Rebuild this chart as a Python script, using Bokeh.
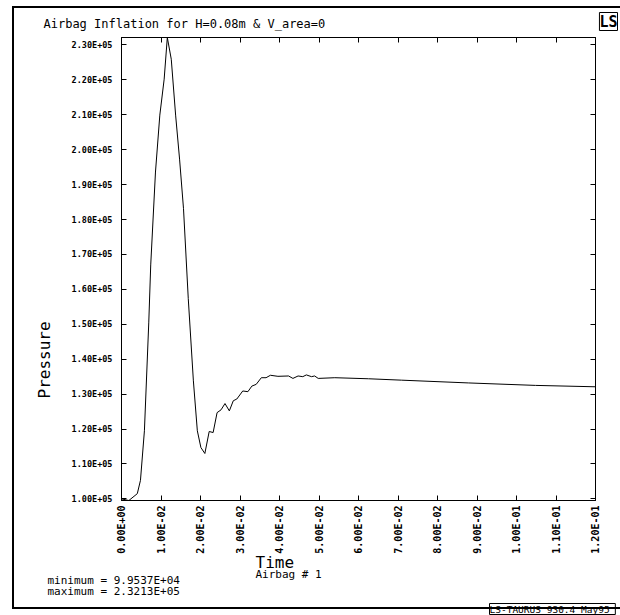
import math
from bokeh.plotting import figure
from bokeh.models import (LinearAxis, FixedTicker, CustomJSTickFormatter, Range1d, Title)
from bokeh.embed import file_html
from bokeh.resources import INLINE

# ---- data ----
time = [0.0, 0.00186, 0.0040, 0.0048, 0.0058, 0.0069, 0.0074, 0.0086, 0.0097, 0.0108,
        0.0116, 0.0126, 0.0137, 0.0147, 0.0157, 0.0169, 0.0182, 0.0192, 0.0201, 0.0211,
        0.0222, 0.0232, 0.0242, 0.0252, 0.0262, 0.0273, 0.0283, 0.0292, 0.0307, 0.0320,
        0.0330, 0.0341, 0.0354, 0.0366, 0.0377, 0.0396, 0.0423, 0.0434, 0.0447, 0.0459,
        0.0468, 0.0481, 0.0489, 0.0498, 0.0540, 0.0625, 0.0709, 0.0879, 0.1048, 0.1200]
pressure = [100000, 99537, 101500, 105300, 119500, 150400, 167000, 193600, 209900, 220200,
            232130, 225900, 209900, 197300, 183100, 157400, 133800, 119500, 114700, 113000,
            119300, 119000, 124700, 125500, 127300, 125200, 128100, 128600, 130900, 130700,
            132300, 132800, 134700, 134700, 135400, 135100, 135200, 134500, 135200, 135000,
            135500, 135000, 135200, 134500, 134700, 134400, 134000, 133200, 132500, 132100]

x_ticks = [0.00, 0.01, 0.02, 0.03, 0.04, 0.05, 0.06, 0.07, 0.08, 0.09, 0.10, 0.11, 0.12]
y_ticks = [100000, 110000, 120000, 130000, 140000, 150000, 160000, 170000, 180000,
           190000, 200000, 210000, 220000, 230000]

title_text = "Airbag Inflation for H=0.08m & V_area=0"
x_title = "Time"
y_title = "Pressure"
curve_name = "Airbag # 1"
min_text = "minimum =  9.9537E+04"
max_text = "maximum =  2.3213E+05"
stamp_text = "LS-TAURUS 930.4  May95"
logo_text = "LS"

# ---- layout ----
W, H = 620, 615
FL, FR, FT, FB = 121, 595, 37, 500   # frame edges in canvas pixels
MONO = "DejaVu Sans Mono"

page_svg = ("%3Csvg xmlns='http://www.w3.org/2000/svg' width='620' height='615'%3E"
            "%3Cpath d='M640 7 H13 V608 H640' fill='none' stroke='black' stroke-width='2'/%3E"
            "%3C/svg%3E")
page_lines = {
    "background-image": 'url("data:image/svg+xml;utf8,' + page_svg + '")',
    "background-repeat": "no-repeat",
    "background-position": "0 0",
    "overflow": "hidden",
}

p = figure(width=W, height=H, output_backend="svg", toolbar_location=None,
           x_axis_type=None, y_axis_type=None, title=None,
           min_border_left=FL, min_border_right=W - FR,
           min_border_top=FT, min_border_bottom=H - FB,
           x_range=Range1d(0.0, 0.12), y_range=Range1d(min(pressure), max(pressure)),
           styles=page_lines)
p.grid.visible = False
p.outline_line_color = "black"
p.outline_line_width = 1
p.background_fill_color = "white"
p.border_fill_alpha = 0

fmt = CustomJSTickFormatter(code="""
    const e = tick.toExponential(2).toUpperCase().split("E");
    let ex = parseInt(e[1]);
    const sg = ex < 0 ? "-" : "+";
    ex = Math.abs(ex);
    return e[0] + "E" + sg + (ex < 10 ? "0" : "") + ex;
""")

def style_axis(ax, label_size=None):
    ax.axis_line_color = "black"
    ax.major_tick_line_color = "black"
    ax.major_tick_in = 5
    ax.major_tick_out = 0
    ax.minor_tick_line_color = None
    if label_size:
        ax.formatter = fmt
        ax.major_label_text_font = MONO
        ax.major_label_text_font_size = label_size
        ax.major_label_text_font_style = "bold"
        ax.major_label_text_color = "black"
    else:
        ax.major_label_text_color = None
        ax.major_label_text_font_size = "1px"
        ax.major_label_standoff = 0

xb = LinearAxis(ticker=FixedTicker(ticks=x_ticks))
style_axis(xb, "10px")
xb.major_label_orientation = math.pi / 2
xb.major_label_standoff = 5
p.add_layout(xb, "below")

xa = LinearAxis(ticker=FixedTicker(ticks=x_ticks))
style_axis(xa)
p.add_layout(xa, "above")

yl = LinearAxis(ticker=FixedTicker(ticks=y_ticks))
style_axis(yl, "8.5px")
yl.major_label_standoff = 9
p.add_layout(yl, "left")

yr = LinearAxis(ticker=FixedTicker(ticks=y_ticks))
style_axis(yr)
p.add_layout(yr, "right")

p.line(time, pressure, line_color="black", line_width=1)

# ---- texts in the side panels ----
def side_title(text, X, size, standoff, side="below", align="left", style="normal",
               boxed=False):
    t = Title(text=text, align=align, offset=X, text_font=MONO, text_font_size=size,
              text_font_style=style, text_color="black", standoff=standoff)
    if boxed:
        try:
            t.border_line_color = "black"
            t.border_line_width = 1
        except AttributeError:
            pass
    p.add_layout(t, side)
    return t

# above: main title row, then a zero-height row for the logo
side_title(title_text, 43 - FL, "12px", 14, side="above")
side_title(logo_text, FR - 617, "15px", -46, side="above", align="right", style="bold",
           boxed=True)

# left: y axis title
side_title(y_title, FB - 398, "16px", 30, side="left")

# below: the x title row, then zero-height rows placed by their standoff
side_title(x_title, 255 - FL, "16px", -12)
side_title(curve_name, 255 - FL, "11px", -30)
side_title(min_text, 47 - FL, "11px", -42)
side_title(max_text, 47 - FL, "11px", -64)
side_title(stamp_text, 489 - FL, "9.5px", -98, boxed=True)

open("out.html", "w").write(file_html(p, INLINE))
